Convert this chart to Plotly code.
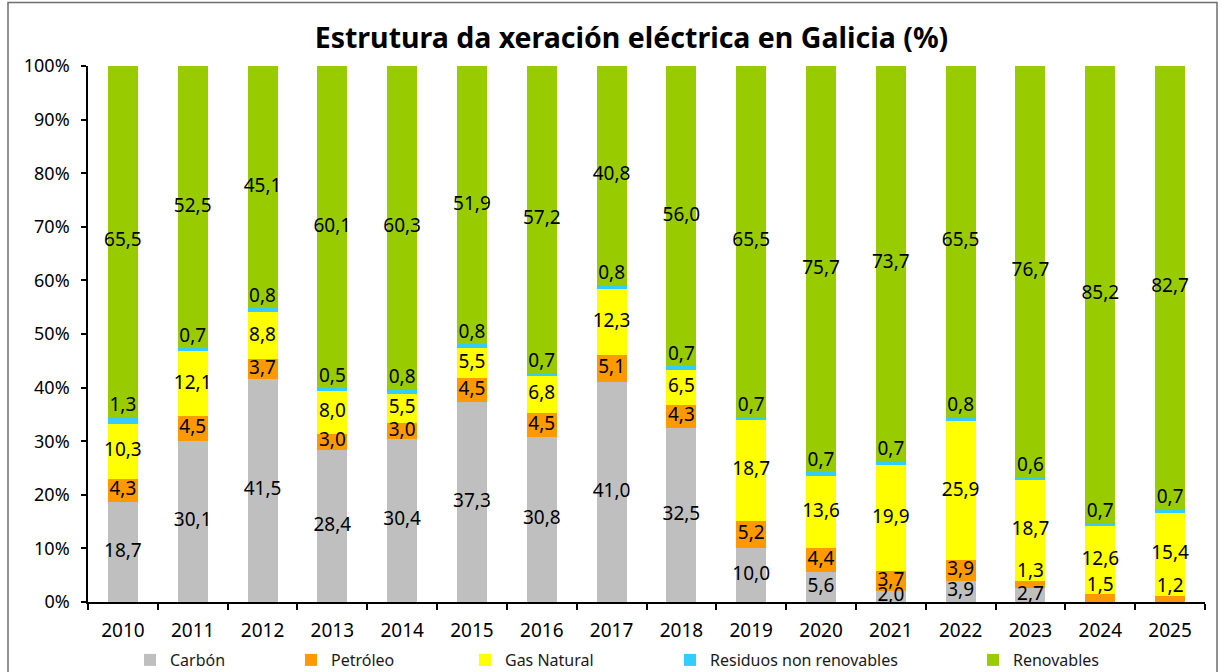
import plotly.graph_objects as go

years = ["2010", "2011", "2012", "2013", "2014", "2015", "2016", "2017",
         "2018", "2019", "2020", "2021", "2022", "2023", "2024", "2025"]
carbon = [18.7, 30.1, 41.5, 28.4, 30.4, 37.3, 30.8, 41.0, 32.5, 10.0, 5.6, 2.0, 3.9, 2.7, 0.0, 0.0]
petroleo = [4.3, 4.5, 3.7, 3.0, 3.0, 4.5, 4.5, 5.1, 4.3, 5.2, 4.4, 3.7, 3.9, 1.3, 1.5, 1.2]
gas = [10.3, 12.1, 8.8, 8.0, 5.5, 5.5, 6.8, 12.3, 6.5, 18.7, 13.6, 19.9, 25.9, 18.7, 12.6, 15.4]
residuos = [1.3, 0.7, 0.8, 0.5, 0.8, 0.8, 0.7, 0.8, 0.7, 0.7, 0.7, 0.7, 0.8, 0.6, 0.7, 0.7]
renovables = [65.5, 52.5, 45.1, 60.1, 60.3, 51.9, 57.2, 40.8, 56.0, 65.5, 75.7, 73.7, 65.5, 76.7, 85.2, 82.7]

names = ["Carbón", "Petróleo", "Gas Natural", "Residuos non renovables", "Renovables"]
colors = ["#BFBFBF", "#FF9900", "#FFFF00", "#33CCFF", "#99CC00"]
series = [carbon, petroleo, gas, residuos, renovables]

# 100 % stacked: normalise each year's total
totals = [sum(s[j] for s in series) for j in range(len(years))]
norm = [[v / totals[j] * 100 for j, v in enumerate(s)] for s in series]

# pixel geometry of the plot area
L, R, T, B = 88, 1205, 66, 602
W, H = 1222, 672

def px_x(p):
    return (p - L) / (R - L)

def px_y(p):
    return (B - p) / (B - T)

fig = go.Figure()
legend_px = [130, 291, 465, 670, 973]
legend_names = ["legend", "legend2", "legend3", "legend4", "legend5"]

for i, (name, col, vals, raw) in enumerate(zip(names, colors, norm, series)):
    fig.add_trace(go.Bar(
        x=years, y=vals, name=name, marker=dict(color=col, line=dict(width=0)),
        legend=legend_names[i], customdata=raw,
        hovertemplate="%{x}<br>" + name + ": %{customdata}<extra></extra>"))

# data labels
base = [0.0] * len(years)
lab_x, lab_y, lab_t = [], [], []
for si, (vals, raw) in enumerate(zip(norm, series)):
    for j, v in enumerate(vals):
        bottom = base[j]
        top = bottom + v
        if raw[j] > 0:
            if si == 3:
                y = top + 2.0
            elif raw[j] < 2:
                y = top + 1.5
            else:
                y = (bottom + top) / 2
            lab_x.append(years[j])
            lab_y.append(y)
            lab_t.append(f"{raw[j]:.1f}".replace(".", ","))
        base[j] = top

fig.add_trace(go.Scatter(
    x=lab_x, y=lab_y, text=lab_t, mode="text", showlegend=False,
    textfont=dict(family="Noto Sans", size=19, color="black"),
    cliponaxis=False, hoverinfo="skip"))

legend_common = dict(orientation="h", yanchor="middle", y=px_y(660), xanchor="left",
                     font=dict(family="Noto Sans", size=16, color="#1a1a1a"),
                     itemwidth=30, bgcolor="rgba(0,0,0,0)", tracegroupgap=0)
layout_legends = {}
for ln, p in zip(legend_names, legend_px):
    layout_legends[ln] = dict(legend_common, x=px_x(p))

fig.update_layout(
    barmode="stack",
    bargap=0.57,
    width=W, height=H,
    margin=dict(l=L, r=W - R, t=T, b=H - B, pad=0, autoexpand=False),
    plot_bgcolor="white", paper_bgcolor="white",
    font=dict(family="Noto Sans", color="black"),
    title=dict(text="<b>Estrutura da xeración eléctrica en Galicia (%)</b>",
               x=631.5 / W, xref="container", xanchor="center",
               y=1 - 38 / H, yref="container", yanchor="middle",
               font=dict(family="Noto Sans", size=28.5, color="black")),
    xaxis=dict(type="category", range=[-0.5, len(years) - 0.5], showgrid=False,
               showline=True, linecolor="black", linewidth=1.5,
               ticks="outside", tickson="boundaries", ticklen=6, tickcolor="black", tickwidth=1.5,
               tickfont=dict(family="Noto Sans", size=19, color="black"), ticklabelstandoff=10,
               automargin=False),
    yaxis=dict(range=[0, 100], dtick=10, ticksuffix="%", showgrid=False, zeroline=False,
               showline=True, linecolor="black", linewidth=1.5, ticks="outside", ticklen=5,
               tickcolor="black", tickwidth=1.5, ticklabelstandoff=8, automargin=False,
               tickfont=dict(family="Noto Sans", size=18, color="black")),
    shapes=[dict(type="rect", xref="paper", yref="paper",
                 x0=px_x(8), x1=px_x(1217), y0=px_y(690), y1=px_y(2.5),
                 line=dict(color="#6e6e6e", width=1.5), fillcolor="rgba(0,0,0,0)", layer="below")],
    **layout_legends,
)

fig.write_html("out.html", config={"displayModeBar": False},
               post_script="document.body.style.margin='0';document.body.style.overflow='hidden';")
